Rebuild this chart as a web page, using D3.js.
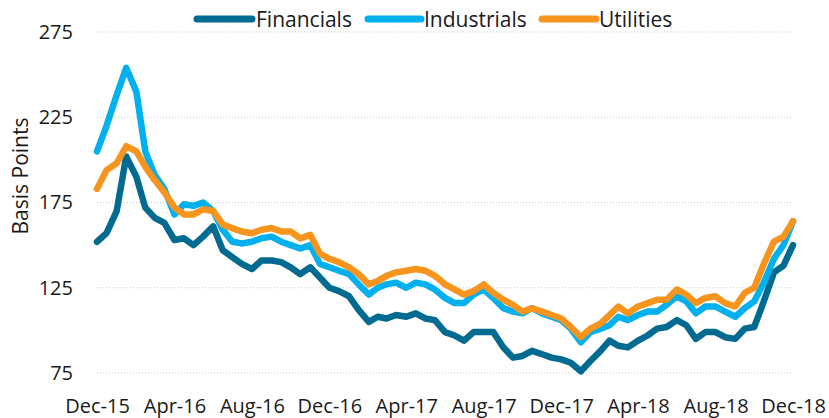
<!DOCTYPE html>
<html><head><meta charset="utf-8">
<script src="https://cdn.jsdelivr.net/npm/d3@7"></script>
<style>body{margin:0;background:#fff}svg{display:block}</style>
</head><body>
<svg id="c" width="829" height="418"></svg>
<script>
const dates = ["2015-12-01","2015-12-16","2016-01-01","2016-01-16","2016-02-01","2016-02-15","2016-03-01","2016-03-16","2016-04-01","2016-04-16","2016-05-01","2016-05-16","2016-06-01","2016-06-16","2016-07-01","2016-07-16","2016-08-01","2016-08-16","2016-09-01","2016-09-16","2016-10-01","2016-10-16","2016-11-01","2016-11-16","2016-12-01","2016-12-16","2017-01-01","2017-01-16","2017-02-01","2017-02-15","2017-03-01","2017-03-16","2017-04-01","2017-04-16","2017-05-01","2017-05-16","2017-06-01","2017-06-16","2017-07-01","2017-07-16","2017-08-01","2017-08-16","2017-09-01","2017-09-16","2017-10-01","2017-10-16","2017-11-01","2017-11-16","2017-12-01","2017-12-16","2018-01-01","2018-01-16","2018-02-01","2018-02-15","2018-03-01","2018-03-16","2018-04-01","2018-04-16","2018-05-01","2018-05-16","2018-06-01","2018-06-16","2018-07-01","2018-07-16","2018-08-01","2018-08-16","2018-09-01","2018-09-16","2018-10-01","2018-10-16","2018-11-01","2018-11-16","2018-12-01"];
const financials = [152,157,170,202,190,172,166,163,153,154,150,155,161,147,143,139,136,141,141,140,137,133,137,131,125,123,120,112,105,108,107,109,108,110,107,106,99,97,94,99,99,99,90,84,85,88,86,84,83,81,76,82,88,94,91,90,94,97,101,102,106,103,95,99,99,96,95,101,102,117,134,138,150];
const industrials = [205,220,238,254,240,205,191,183,168,174,173,175,170,159,152,151,152,154,155,152,150,148,150,139,137,135,133,127,121,125,127,128,125,128,127,124,119,116,116,121,124,119,113,111,110,113,110,108,106,101,93,99,101,103,108,106,109,111,111,115,120,117,110,114,114,111,108,113,117,128,142,150,164];
const utilities = [183,194,198,208,205,196,188,181,172,168,168,171,170,162,160,158,157,159,160,158,158,154,156,145,142,140,137,133,127,129,132,134,135,136,135,132,127,124,121,123,127,122,118,115,111,113,111,109,107,102,96,101,104,109,114,110,114,116,118,118,124,121,116,119,120,116,114,122,125,139,152,155,164];
const seriesNames = ["Financials","Industrials","Utilities"];
const colors = ["#006a90","#00b0ef","#f7941d"];
const yTicks = [75,125,175,225,275];
const xTickLabels = ["Dec-15","Apr-16","Aug-16","Dec-16","Apr-17","Aug-17","Dec-17","Apr-18","Aug-18","Dec-18"];

const parse = d3.timeParse("%Y-%m-%d");
const fmt = d3.timeFormat("%b-%y");
const X = dates.map(parse);
const svg = d3.select("#c");
const font = "'Open Sans', sans-serif";
const ink = "#1a1a1a";

const x = d3.scaleTime().domain([parse("2015-12-01"), parse("2018-12-01")]).range([97, 793]);
const y = d3.scaleLinear().domain([75, 275]).range([373, 32]);

// gridlines
svg.append("g").selectAll("line").data(yTicks).join("line")
  .attr("x1", 97).attr("x2", 793)
  .attr("y1", d => y(d)).attr("y2", d => y(d))
  .attr("stroke", "#c8c8c8").attr("stroke-width", 1).attr("stroke-dasharray", "1,2");

// y axis
const ya = svg.append("g").attr("transform", "translate(73,0)")
  .call(d3.axisLeft(y).tickValues(yTicks).tickSize(0).tickPadding(0));
ya.select(".domain").remove();
ya.selectAll("text").attr("font-family", font).attr("font-size", 20).attr("fill", ink);

// x axis
const xTickDates = xTickLabels.map(s => d3.timeParse("%b-%y")(s));
const xa = svg.append("g").attr("transform", "translate(0,413)")
  .call(d3.axisBottom(x).tickValues(xTickDates).tickFormat(fmt).tickSize(0).tickPadding(0));
xa.select(".domain").remove();
xa.selectAll("text").attr("font-family", font).attr("font-size", 20).attr("fill", ink).attr("y", 0).attr("dy", 0);

// y title
svg.append("text").attr("transform", "translate(28,176) rotate(-90)")
  .attr("text-anchor", "middle").attr("font-family", font).attr("font-size", 21).attr("fill", ink)
  .text("Basis Points");

// lines
const data = [financials, industrials, utilities];
const line = d3.line().x((d, i) => x(X[i])).y(d => y(d)).curve(d3.curveLinear);
svg.append("g").selectAll("path").data(data).join("path")
  .attr("d", line).attr("fill", "none")
  .attr("stroke", (d, i) => colors[i]).attr("stroke-width", 6.5)
  .attr("stroke-linejoin", "round").attr("stroke-linecap", "round");

// legend
const leg = [{x1: 197, x2: 252, tx: 256}, {x1: 368, x2: 421, tx: 424}, {x1: 542, x2: 596, tx: 599}];
const lg = svg.append("g");
seriesNames.forEach((n, i) => {
  lg.append("line").attr("x1", leg[i].x1).attr("x2", leg[i].x2).attr("y1", 19).attr("y2", 19)
    .attr("stroke", colors[i]).attr("stroke-width", 7).attr("stroke-linecap", "round");
  lg.append("text").attr("x", leg[i].tx).attr("y", 19).attr("dy", "0.36em")
    .attr("font-family", font).attr("font-size", 21).attr("fill", ink).text(n);
});
</script>
</body></html>
